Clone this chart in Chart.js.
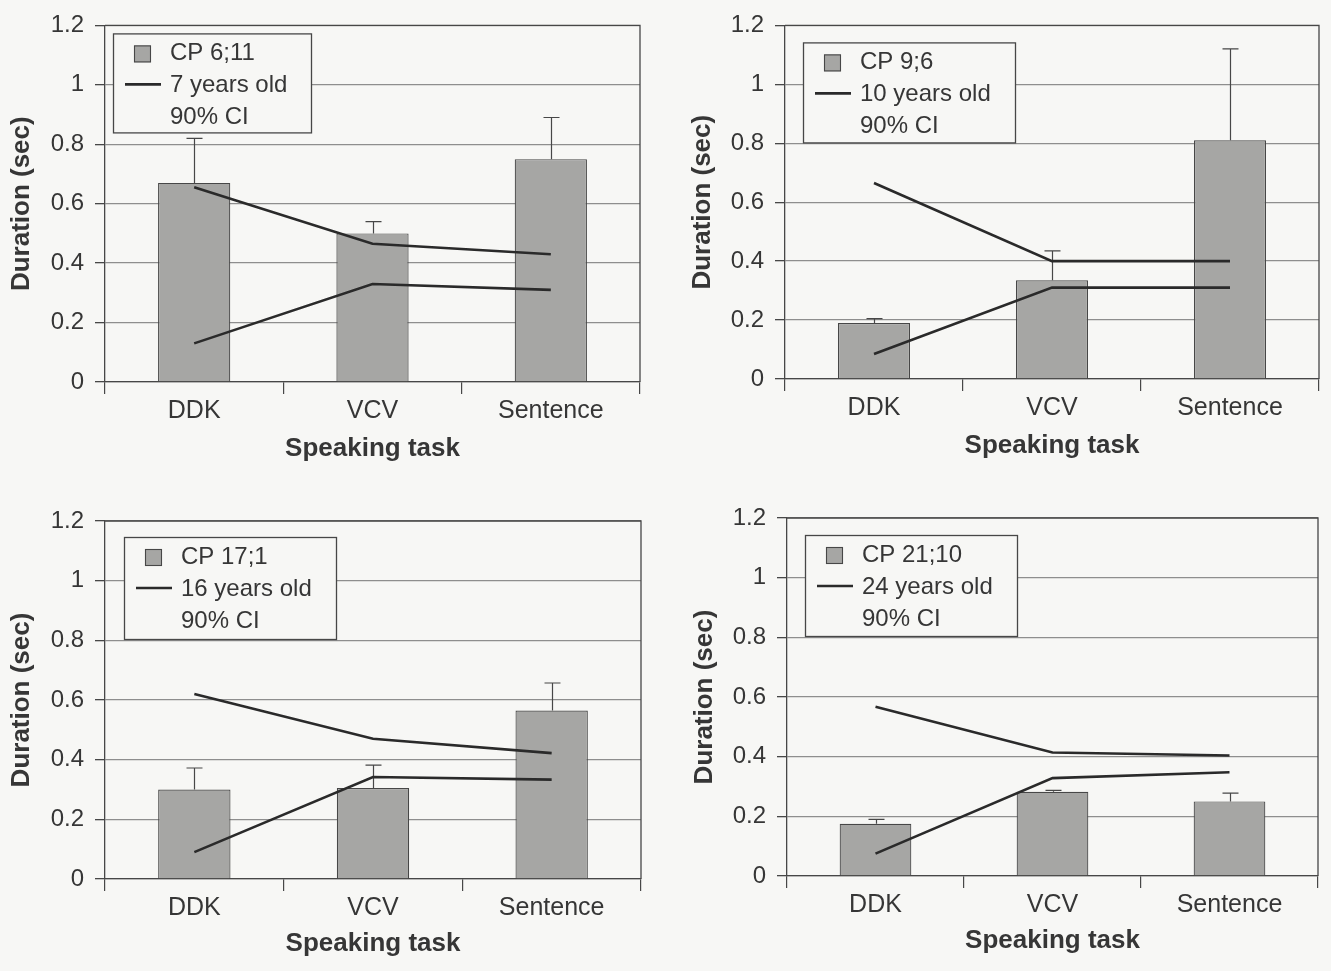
<!DOCTYPE html>
<html>
<head>
<meta charset="utf-8">
<script src="https://cdn.jsdelivr.net/npm/chart.js@4.4.0/dist/chart.umd.min.js"></script>
<style>
html,body{margin:0;padding:0;background:#f7f7f5;}
#wrap{position:relative;width:1331px;height:971px;overflow:hidden;background:#f7f7f5;}
canvas{position:absolute;display:block;}
</style>
</head>
<body>
<div id="wrap">
<canvas id="c1" width="665" height="485" style="left:0;top:0"></canvas>
<canvas id="c2" width="666" height="485" style="left:665px;top:0"></canvas>
<canvas id="c3" width="665" height="486" style="left:0;top:485px"></canvas>
<canvas id="c4" width="666" height="486" style="left:665px;top:485px"></canvas>
</div>
<script>
// ---------- data ----------
const categories = ['DDK', 'VCV', 'Sentence'];
const yTickLabels = ['0', '0.2', '0.4', '0.6', '0.8', '1', '1.2'];
const xAxisTitle = 'Speaking task';
const yAxisTitle = 'Duration (sec)';
const ciLabel = '90% CI';

const cpLabels = ['CP 6;11', 'CP 9;6', 'CP 17;1', 'CP 21;10'];
const normLabels = ['7 years old', '10 years old', '16 years old', '24 years old'];

// Panel 1: CP 6;11 vs 7 years old
const cp1Mean   = [0.67, 0.50, 0.75];
const cp1ErrTop = [0.82, 0.54, 0.89];
const norm1Upper = [0.655, 0.465, 0.43];
const norm1Lower = [0.13, 0.33, 0.31];

// Panel 2: CP 9;6 vs 10 years old
const cp2Mean   = [0.19, 0.335, 0.81];
const cp2ErrTop = [0.205, 0.435, 1.12];
const norm2Upper = [0.665, 0.40, 0.40];
const norm2Lower = [0.085, 0.31, 0.31];

// Panel 3: CP 17;1 vs 16 years old
const cp3Mean   = [0.30, 0.305, 0.565];
const cp3ErrTop = [0.372, 0.382, 0.657];
const norm3Upper = [0.62, 0.47, 0.422];
const norm3Lower = [0.09, 0.342, 0.333];

// Panel 4: CP 21;10 vs 24 years old
const cp4Mean   = [0.175, 0.282, 0.25];
const cp4ErrTop = [0.19, 0.287, 0.278];
const norm4Upper = [0.567, 0.414, 0.404];
const norm4Lower = [0.075, 0.328, 0.348];

// ---------- layout / style ----------
const FONT = '"Liberation Sans", Arial, Helvetica, sans-serif';
const TEXT = '#363636';
const DARK = '#474747';
const GRID = '#8e8e8e';
const BG = '#f7f7f5';
const BAR = '#a6a6a4';

const panels = [
  {id: 'c1', area: {l: 105, t: 25, r: 640, b: 382}, yTitleX: 22, xTitleY: 449,
   legend: {dx: 8, dy: 8, w: 198, h: 99},
   mean: cp1Mean, err: cp1ErrTop, upper: norm1Upper, lower: norm1Lower, cp: cpLabels[0], norm: normLabels[0]},
  {id: 'c2', area: {l: 120, t: 22, r: 654, b: 379}, yTitleX: 38, xTitleY: 446,
   legend: {dx: 18, dy: 17, w: 212, h: 100},
   mean: cp2Mean, err: cp2ErrTop, upper: norm2Upper, lower: norm2Lower, cp: cpLabels[1], norm: normLabels[1]},
  {id: 'c3', area: {l: 105, t: 36, r: 641, b: 394}, yTitleX: 22, xTitleY: 459,
   legend: {dx: 19, dy: 16, w: 212, h: 102},
   mean: cp3Mean, err: cp3ErrTop, upper: norm3Upper, lower: norm3Lower, cp: cpLabels[2], norm: normLabels[2]},
  {id: 'c4', area: {l: 122, t: 33, r: 653, b: 391}, yTitleX: 40, xTitleY: 456,
   legend: {dx: 18, dy: 17, w: 212, h: 101},
   mean: cp4Mean, err: cp4ErrTop, upper: norm4Upper, lower: norm4Lower, cp: cpLabels[3], norm: normLabels[3]}
];

// ---------- plugins ----------
const bgPlugin = {
  id: 'bg',
  beforeDraw(chart) {
    const c = chart.ctx;
    c.save(); c.fillStyle = BG; c.fillRect(0, 0, chart.width, chart.height); c.restore();
  }
};

const framePlugin = {
  id: 'frame',
  beforeDatasetsDraw(chart) {
    const a = chart.chartArea, c = chart.ctx;
    c.save();
    c.strokeStyle = DARK; c.lineWidth = 1.3;
    c.beginPath();
    c.moveTo(a.left, a.top); c.lineTo(a.right, a.top); c.lineTo(a.right, a.bottom);
    c.stroke();
    c.restore();
  }
};

const errPlugin = {
  id: 'errbars',
  afterDatasetDraw(chart, args, opts) {
    if (args.index !== 0) return;
    const meta = args.meta, ys = chart.scales.y, c = chart.ctx;
    const tops = opts.tops, means = chart.data.datasets[0].data;
    c.save();
    c.strokeStyle = DARK; c.lineWidth = 1.2;
    meta.data.forEach((bar, i) => {
      const x = Math.round(bar.x) + 0.5;
      const y0 = ys.getPixelForValue(means[i]);
      const y1 = ys.getPixelForValue(tops[i]);
      c.beginPath();
      c.moveTo(x, y0); c.lineTo(x, y1);
      c.moveTo(x - 8, y1); c.lineTo(x + 8, y1);
      c.stroke();
    });
    c.restore();
  }
};

const boxLegendPlugin = {
  id: 'boxLegend',
  afterDraw(chart, args, o) {
    const a = chart.chartArea, c = chart.ctx;
    const bx = a.left + o.dx, by = a.top + o.dy;
    c.save();
    c.fillStyle = BG;
    c.fillRect(bx, by, o.w, o.h);
    c.strokeStyle = DARK; c.lineWidth = 1.3;
    c.strokeRect(bx + 0.5, by + 0.5, o.w, o.h);
    // bar swatch
    c.fillStyle = BAR;
    c.fillRect(bx + 21, by + 12, 17, 17);
    c.strokeStyle = DARK; c.lineWidth = 1.1;
    c.strokeRect(bx + 21.5, by + 12.5, 16, 16);
    // line swatch
    c.strokeStyle = '#2a2a2a'; c.lineWidth = 2.6;
    c.beginPath(); c.moveTo(bx + 12, by + 51); c.lineTo(bx + 48, by + 51); c.stroke();
    // texts
    c.fillStyle = TEXT;
    c.font = '24px ' + FONT;
    c.textAlign = 'left'; c.textBaseline = 'middle';
    c.fillText(o.cp, bx + 57, by + 20);
    c.fillText(o.norm, bx + 57, by + 52);
    c.fillText(ciLabel, bx + 57, by + 84);
    c.restore();
  }
};

// ---------- charts ----------
panels.forEach(p => {
  const cv = document.getElementById(p.id);
  const W = cv.width, H = cv.height, a = p.area;
  const titleFont = {family: FONT, size: 26, weight: 'bold', lineHeight: 1.2};
  const lh = 26 * 1.2;
  new Chart(cv.getContext('2d'), {
    type: 'bar',
    data: {
      labels: categories,
      datasets: [
        {type: 'bar', label: p.cp, data: p.mean, backgroundColor: BAR, borderColor: DARK,
         borderWidth: 1.2, barPercentage: 0.405, categoryPercentage: 1, order: 3},
        {type: 'line', label: p.norm, data: p.upper, borderColor: '#2a2a2a', borderWidth: 2.6,
         pointRadius: 0, fill: false, tension: 0, order: 1},
        {type: 'line', label: p.norm + ' (lower)', data: p.lower, borderColor: '#2a2a2a', borderWidth: 2.6,
         pointRadius: 0, fill: false, tension: 0, order: 1}
      ]
    },
    options: {
      responsive: false,
      animation: false,
      devicePixelRatio: 1,
      layout: {padding: {top: a.t, right: W - a.r, bottom: 0, left: 0}},
      plugins: {
        legend: {display: false},
        tooltip: {enabled: false},
        errbars: {tops: p.err},
        boxLegend: Object.assign({cp: p.cp, norm: p.norm}, p.legend)
      },
      scales: {
        x: {
          offset: true,
          grid: {display: true, offset: true, drawOnChartArea: false, drawTicks: true,
                 tickLength: 12, color: DARK, lineWidth: 1.2},
          border: {display: true, color: DARK, width: 1.3},
          ticks: {color: TEXT, font: {family: FONT, size: 25}, padding: 2, maxRotation: 0, autoSkip: false},
          title: {display: true, text: xAxisTitle, color: TEXT, font: titleFont,
                  padding: {top: 0, bottom: H - p.xTitleY - lh / 2}},
          afterFit(s) { s.height = H - a.b; }
        },
        y: {
          min: 0, max: 1.2,
          ticks: {stepSize: 0.2, color: TEXT, font: {family: FONT, size: 24}, padding: 11,
                  callback: (v) => yTickLabels[Math.round(v / 0.2)]},
          grid: {color: GRID, lineWidth: 1.3, drawTicks: true, tickLength: 10, tickColor: DARK},
          border: {display: true, color: DARK, width: 1.3},
          title: {display: true, text: yAxisTitle, color: TEXT, font: titleFont,
                  padding: {top: p.yTitleX - lh / 2, bottom: 0}},
          afterFit(s) { s.width = a.l; }
        }
      }
    },
    plugins: [bgPlugin, framePlugin, errPlugin, boxLegendPlugin]
  });
});
</script>
</body>
</html>
